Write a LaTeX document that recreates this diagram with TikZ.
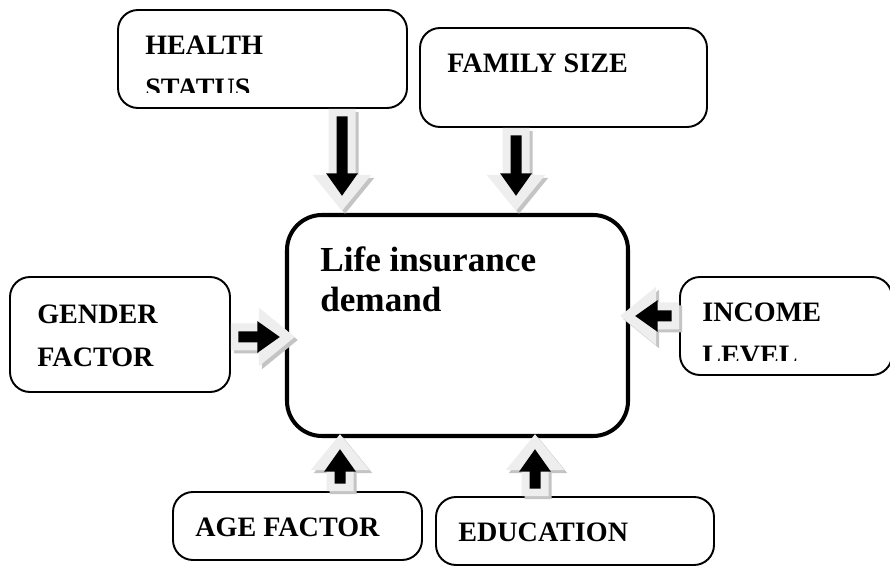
\documentclass[tikz,border=0pt]{standalone}
\usepackage{fontspec}
\setmainfont{Liberation Serif}
\usetikzlibrary{arrows.meta}

\definecolor{arrowfill}{HTML}{EEEEEE}
\definecolor{arrowshade}{HTML}{C4C4C4}

\tikzset{
	factor/.style={draw, line width=1.1pt, rounded corners=0.4cm, fill=white, inner sep=0pt},
	boxtext/.style={font=\bfseries\fontsize{16}{24.7}\selectfont, align=left, inner sep=0pt, anchor=base west},
	fatarrow/.style={line width=0.54cm, -{Triangle[length=0.72cm,width=1.12cm]}},
	thinarrow/.style={line width=0.22cm, -{Triangle[length=0.45cm,width=0.6cm]}, shorten <=0.15cm, shorten >=0.3cm},
}

\begin{document}
\begin{tikzpicture}
	\useasboundingbox (0,0) rectangle (17.8,11.34);
	% the boxes
	\node[factor, line width=2.3pt, rounded corners=0.7cm, minimum width=6.82cm, minimum height=4.42cm] (life) at (9.15,4.83) {};
	\node[factor, minimum width=5.78cm, minimum height=1.96cm] (hs) at (5.25,10.16) {};
	\node[factor, minimum width=5.74cm, minimum height=1.98cm] (fs) at (11.27,9.79) {};
	\node[factor, minimum width=4.40cm, minimum height=2.30cm] (gf) at (2.40,4.65) {};
	\node[factor, minimum width=4.24cm, minimum height=1.96cm] (il) at (15.72,4.82) {};
	\node[factor, minimum width=4.98cm, minimum height=1.36cm] (af) at (5.95,0.82) {};
	\node[factor, minimum width=5.56cm, minimum height=1.36cm] (ed) at (11.50,0.72) {};
	% texts (base = last line), the long ones cut off at the bottom of their box
	\node[boxtext, font=\bfseries\fontsize{20}{22.8}\selectfont] (lit) at (6.40,5.10) {Life insurance\\demand};
	\begin{scope}
		\clip (hs.north west) rectangle ([yshift=0.32cm]hs.south east);
		\node[boxtext] (hst) at (2.90,9.38) {HEALTH\\STATUS};
	\end{scope}
	\begin{scope}
		\clip (il.north west) rectangle ([yshift=0.30cm]il.south east);
		\node[boxtext] (ilt) at (14.04,4.04) {INCOME\\LEVEL};
	\end{scope}
	\node[boxtext] (fst) at (8.94,9.88) {FAMILY SIZE};
	\node[boxtext] (gft) at (0.74,4.00) {GENDER\\FACTOR};
	\node[boxtext] (aft) at (3.90,0.60) {AGE FACTOR};
	\node[boxtext] (edt) at (9.16,0.50) {EDUCATION};
	% arrow ends
	\coordinate (h1) at ([xshift=1.59cm]hs.south);
	\coordinate (h2) at ([xshift=-2.31cm,yshift=0.04cm]life.north);
	\coordinate (f1) at ([xshift=-0.95cm]fs.south);
	\coordinate (f2) at ([xshift=1.17cm,yshift=0.04cm]life.north);
	\coordinate (g1) at ([yshift=-0.05cm]gf.east);
	\coordinate (g2) at ([xshift=0.20cm,yshift=-0.23cm]life.west);
	\coordinate (i1) at ([yshift=0.20cm]il.west);
	\coordinate (i2) at ([xshift=-0.20cm,yshift=0.19cm]life.east);
	\coordinate (a1) at ([xshift=0.85cm]af.north);
	\coordinate (a2) at ([xshift=-2.35cm,yshift=0.08cm]life.south);
	\coordinate (e1) at ([xshift=-0.80cm]ed.north);
	\coordinate (e2) at ([xshift=1.55cm,yshift=0.08cm]life.south);
	% block arrows with a black arrow inside
	\foreach \a/\b in {h1/h2, f1/f2, g1/g2, i1/i2, a1/a2, e1/e2}{
		\draw[fatarrow, arrowshade, transform canvas={shift={(0.06,-0.06)}}] (\a) -- (\b);
		\draw[fatarrow, arrowfill] (\a) -- (\b);
		\draw[thinarrow, black] (\a) -- (\b);
	}
\end{tikzpicture}
\end{document}
